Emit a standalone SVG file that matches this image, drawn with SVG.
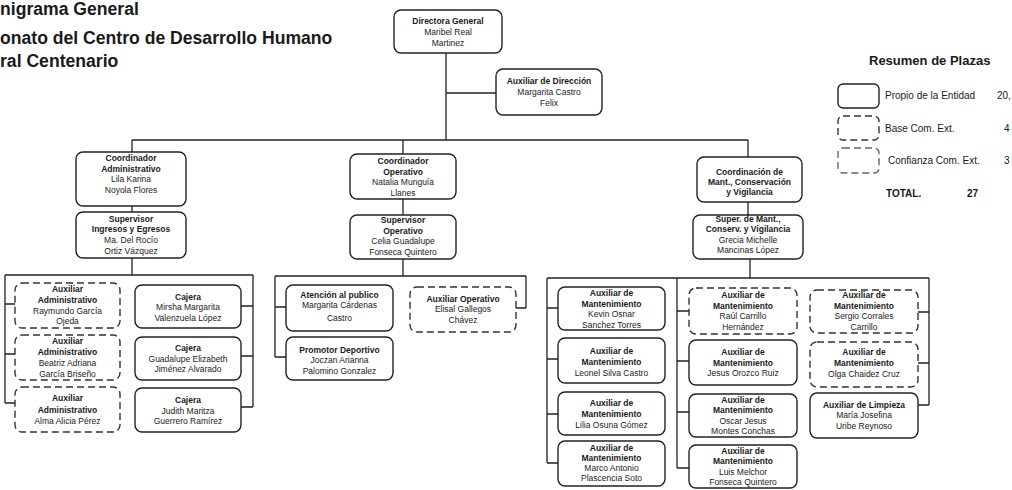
<svg xmlns="http://www.w3.org/2000/svg" width="1012" height="490" viewBox="0 0 1012 490">
<style>
.bg{fill:#fff}
.n{fill:#fff;stroke:#222;stroke-width:1.4}
.d{fill:#fff;stroke:#333;stroke-width:1.4;stroke-dasharray:7 4}
.c{fill:none;stroke:#222;stroke-width:1.3}
text{font-family:"Liberation Sans",Arial,sans-serif;fill:#1a1a1a}
.b{font-size:8.5px;font-weight:bold;text-anchor:middle}
.s{font-size:8.5px;text-anchor:middle}
.h{font-size:17.6px;font-weight:bold}
.lg{font-size:10px}
</style>
<rect class="bg" x="0" y="0" width="1012" height="490"/>
<g id="title">
<text class="h" x="0" y="15">nigrama General</text>
<text class="h" x="0" y="44">onato del Centro de Desarrollo Humano</text>
<text class="h" x="0" y="67">ral Centenario</text>
</g>
<g id="connectors">
<path class="c" d="M446 53V140M446 93H496M132 140H748"/>
<path class="c" d="M132 140V152M132 206V212M132 258V275M5 275H253M5 275V403M5 304H15M5 354H15M5 403H15M253 275V407M253 306H241M253 356H241M253 407H241"/>
<path class="c" d="M403 140V154M403 199V215M403 259V276M275 276H526M275 276V357M275 307H286M275 357H286M526 276V308M526 308H516"/>
<path class="c" d="M748 140V157M748 202V215M750 259V278M547 278H929M547 278V463M547 308H558M547 359H558M547 414H558M547 463H558M677 278V468M677 311H689M677 361H689M677 412H689M677 468H689M929 278V405M929 312H918M929 363H918M929 405H918"/>
</g>
<g id="directora">
<rect class="n" x="394" y="10" width="108" height="43" rx="7"/>
<text class="b" x="448" y="23.5">Directora General</text>
<text class="s" x="448" y="34.5">Maribel Real</text>
<text class="s" x="448" y="45.5">Martinez</text>
</g>
<g id="auxiliar-direccion">
<rect class="n" x="496" y="69" width="106" height="46" rx="7"/>
<text class="b" x="549" y="84">Auxiliar de Dirección</text>
<text class="s" x="549" y="95">Margarita Castro</text>
<text class="s" x="549" y="106">Felix</text>
</g>
<g id="coord-admin">
<rect class="n" x="76" y="152" width="110" height="54" rx="7"/>
<text class="b" x="131" y="161">Coordinador</text>
<text class="b" x="131" y="171.5">Administrativo</text>
<text class="s" x="131" y="182">Lila Karina</text>
<text class="s" x="131" y="192.5">Noyola Flores</text>
</g>
<g id="sup-ingresos">
<rect class="n" x="76" y="212" width="110" height="46" rx="7"/>
<text class="b" x="131" y="221.7">Supervisor</text>
<text class="b" x="131" y="232.3">Ingresos y Egresos</text>
<text class="s" x="131" y="243">Ma. Del Rocío</text>
<text class="s" x="131" y="253.7">Ortiz Vázquez</text>
</g>
<g id="coord-operativo">
<rect class="n" x="350" y="154" width="106" height="45" rx="7"/>
<text class="b" x="403" y="164">Coordinador</text>
<text class="b" x="403" y="174.5">Operativo</text>
<text class="s" x="403" y="185">Natalia Munguía</text>
<text class="s" x="403" y="195.5">Llanes</text>
</g>
<g id="sup-operativo">
<rect class="n" x="350" y="215" width="106" height="44" rx="7"/>
<text class="b" x="403" y="223">Supervisor</text>
<text class="b" x="403" y="233.5">Operativo</text>
<text class="s" x="403" y="244">Celia Guadalupe</text>
<text class="s" x="403" y="254.5">Fonseca Quintero</text>
</g>
<g id="coord-mant">
<rect class="n" x="697" y="157" width="105" height="45" rx="7"/>
<text class="b" x="749.5" y="174.5">Coordinación de</text>
<text class="b" x="749.5" y="184.5">Mant., Conservación</text>
<text class="b" x="749.5" y="194.5">y Vigilancia</text>
</g>
<g id="sup-mant">
<rect class="n" x="693" y="215" width="110" height="44" rx="7"/>
<text class="b" x="748" y="221.5">Super. de Mant.,</text>
<text class="b" x="748" y="232">Conserv. y Vigilancia</text>
<text class="s" x="748" y="242.5">Grecia Michelle</text>
<text class="s" x="748" y="253">Mancinas López</text>
</g>
<g id="aux-admin-1">
<rect class="d" x="15" y="283" width="105" height="45" rx="7"/>
<text class="b" x="67.5" y="291.5">Auxiliar</text>
<text class="b" x="67.5" y="302.5">Administrativo</text>
<text class="s" x="67.5" y="313.5">Raymundo García</text>
<text class="s" x="67.5" y="324">Ojeda</text>
</g>
<g id="aux-admin-2">
<rect class="d" x="15" y="335" width="105" height="45" rx="7"/>
<text class="b" x="67.5" y="343.7">Auxiliar</text>
<text class="b" x="67.5" y="354.7">Administrativo</text>
<text class="s" x="67.5" y="365.7">Beatriz Adriana</text>
<text class="s" x="67.5" y="376.5">García Briseño</text>
</g>
<g id="aux-admin-3">
<rect class="d" x="15" y="387" width="105" height="45" rx="7"/>
<text class="b" x="67.5" y="401">Auxiliar</text>
<text class="b" x="67.5" y="412.5">Administrativo</text>
<text class="s" x="67.5" y="423.5">Alma Alicia Pérez</text>
</g>
<g id="cajera-1">
<rect class="n" x="135" y="285" width="106" height="43" rx="7"/>
<text class="b" x="188" y="299.5">Cajera</text>
<text class="s" x="188" y="310">Mirsha Margarita</text>
<text class="s" x="188" y="320.5">Valenzuela López</text>
</g>
<g id="cajera-2">
<rect class="n" x="135" y="337" width="106" height="43" rx="7"/>
<text class="b" x="188" y="350.5">Cajera</text>
<text class="s" x="188" y="361.5">Guadalupe Elizabeth</text>
<text class="s" x="188" y="372">Jiménez Alvarado</text>
</g>
<g id="cajera-3">
<rect class="n" x="135" y="388" width="106" height="44" rx="7"/>
<text class="b" x="188" y="402.5">Cajera</text>
<text class="s" x="188" y="413.5">Judith Maritza</text>
<text class="s" x="188" y="424">Guerrero Ramírez</text>
</g>
<g id="atencion">
<rect class="n" x="286" y="285" width="107" height="46" rx="7"/>
<text class="b" x="339.5" y="297.5">Atención al publico</text>
<text class="s" x="339.5" y="308">Margarita Cárdenas</text>
<text class="s" x="339.5" y="321">Castro</text>
</g>
<g id="promotor">
<rect class="n" x="286" y="337" width="107" height="43" rx="7"/>
<text class="b" x="339.5" y="352.5">Promotor Deportivo</text>
<text class="s" x="339.5" y="363">Joczan Arianna</text>
<text class="s" x="339.5" y="373.5">Palomino Gonzalez</text>
</g>
<g id="aux-operativo">
<rect class="d" x="410" y="287" width="106" height="45" rx="7"/>
<text class="b" x="463" y="302">Auxiliar Operativo</text>
<text class="s" x="463" y="312">Elisal Gallegos</text>
<text class="s" x="463" y="322.5">Chávez</text>
</g>
<g id="mant-1">
<rect class="n" x="558" y="287" width="107" height="43" rx="7"/>
<text class="b" x="611.5" y="296">Auxiliar de</text>
<text class="b" x="611.5" y="306.5">Mantenimiento</text>
<text class="s" x="611.5" y="317">Kevin Osnar</text>
<text class="s" x="611.5" y="327.5">Sanchez Torres</text>
</g>
<g id="mant-2">
<rect class="n" x="558" y="338" width="107" height="45" rx="7"/>
<text class="b" x="611.5" y="353.5">Auxiliar de</text>
<text class="b" x="611.5" y="364.5">Mantenimiento</text>
<text class="s" x="611.5" y="375.5">Leonel Silva Castro</text>
</g>
<g id="mant-3">
<rect class="n" x="558" y="392" width="107" height="43" rx="7"/>
<text class="b" x="611.5" y="406">Auxiliar de</text>
<text class="b" x="611.5" y="417">Mantenimiento</text>
<text class="s" x="611.5" y="428">Lilia Osuna Gómez</text>
</g>
<g id="mant-4">
<rect class="n" x="558" y="441" width="107" height="45" rx="7"/>
<text class="b" x="611.5" y="450.5">Auxiliar de</text>
<text class="b" x="611.5" y="460.5">Mantenimiento</text>
<text class="s" x="611.5" y="471">Marco Antonio</text>
<text class="s" x="611.5" y="481">Plascencia Soto</text>
</g>
<g id="mant-5">
<rect class="d" x="689" y="288" width="108" height="46" rx="7"/>
<text class="b" x="743" y="297.5">Auxiliar de</text>
<text class="b" x="743" y="308.5">Mantenimiento</text>
<text class="s" x="743" y="319">Raúl Carrillo</text>
<text class="s" x="743" y="329.5">Hernández</text>
</g>
<g id="mant-6">
<rect class="n" x="689" y="340" width="108" height="45" rx="7"/>
<text class="b" x="743" y="354.5">Auxiliar de</text>
<text class="b" x="743" y="365.5">Mantenimiento</text>
<text class="s" x="743" y="376">Jesus Orozco Ruiz</text>
</g>
<g id="mant-7">
<rect class="n" x="689" y="394" width="108" height="43" rx="7"/>
<text class="b" x="743" y="402.5">Auxiliar de</text>
<text class="b" x="743" y="413">Mantenimiento</text>
<text class="s" x="743" y="424">Oscar Jesus</text>
<text class="s" x="743" y="434">Montes Conchas</text>
</g>
<g id="mant-8">
<rect class="n" x="689" y="445" width="108" height="43" rx="7"/>
<text class="b" x="743" y="453.5">Auxiliar de</text>
<text class="b" x="743" y="464">Mantenimiento</text>
<text class="s" x="743" y="474.5">Luis Melchor</text>
<text class="s" x="743" y="484.5">Fonseca Quintero</text>
</g>
<g id="mant-9">
<rect class="d" x="810" y="290" width="108" height="43" rx="7"/>
<text class="b" x="864" y="297.5">Auxiliar de</text>
<text class="b" x="864" y="308.5">Mantenimiento</text>
<text class="s" x="864" y="319">Sergio Corrales</text>
<text class="s" x="864" y="329.5">Carrillo</text>
</g>
<g id="mant-10">
<rect class="d" x="810" y="342" width="108" height="45" rx="7"/>
<text class="b" x="864" y="354.5">Auxiliar de</text>
<text class="b" x="864" y="366">Mantenimiento</text>
<text class="s" x="864" y="376.5">Olga Chaidez Cruz</text>
</g>
<g id="limpieza">
<rect class="n" x="810" y="393" width="108" height="45" rx="7"/>
<text class="b" x="864" y="407.5">Auxiliar de Limpieza</text>
<text class="s" x="864" y="418">María Josefina</text>
<text class="s" x="864" y="428.5">Uribe Reynoso</text>
</g>
<g id="legend">
<text x="869" y="65" style="font-size:13px;font-weight:bold">Resumen de Plazas</text>
<rect class="n" x="838" y="84" width="41" height="24" rx="5"/>
<text class="lg" x="885" y="99">Propio de la Entidad</text>
<text class="lg" x="997" y="99">20,</text>
<rect class="d" x="838" y="116" width="41" height="24" rx="5"/>
<text class="lg" x="885" y="132">Base Com. Ext.</text>
<text class="lg" x="1004" y="132">4</text>
<rect class="d" x="838" y="148" width="41" height="25" rx="5" style="stroke:#666"/>
<text class="lg" x="888" y="164">Confianza Com. Ext.</text>
<text class="lg" x="1004" y="164">3</text>
<text class="lg" x="886" y="197" style="font-weight:bold">TOTAL.</text>
<text class="lg" x="967" y="197" style="font-weight:bold">27</text>
</g>
</svg>
